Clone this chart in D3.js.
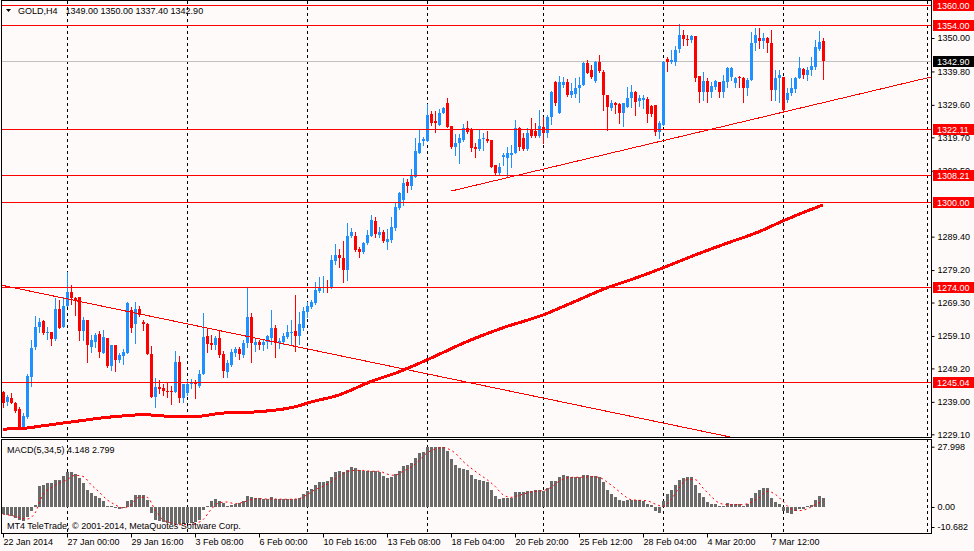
<!DOCTYPE html>
<html>
<head>
<meta charset="utf-8">
<title>GOLD,H4</title>
<script src="https://cdn.jsdelivr.net/npm/d3@7/dist/d3.min.js"></script>
<style>
  body { margin: 0; background: #fffafa; }
  svg { display: block; font-family: "Liberation Sans", Arial, sans-serif; font-size: 9px; }
</style>
</head>
<body>
<svg width="974" height="551"></svg>
<script>
// OHLC, one entry per H4 bar, first bar 22 Jan 2014 08:00
const opens = [
  1242.1,1239.0,1240.2,1238.7,1236.8,1231.4,1234.5,1246.7,1255.8,1261.7,
  1263.6,1260.1,1260.2,1258.1,1267.2,1261.9,1268.2,1272.4,1270.8,1270.9,
  1260.6,1264.0,1255.8,1257.4,1259.6,1254.0,1258.4,1250.0,1256.3,1251.9,
  1253.0,1254.0,1267.0,1262.9,1267.2,1263.4,1262.7,1253.6,1240.6,1243.6,
  1243.2,1242.4,1242.3,1242.1,1251.1,1240.3,1241.8,1244.5,1245.1,1243.9,
  1247.4,1259.2,1256.9,1256.3,1258.4,1253.6,1248.0,1250.3,1253.8,1255.1,
  1253.3,1256.9,1265.0,1256.4,1257.2,1256.3,1257.4,1258.6,1261.5,1257.0,
  1257.4,1258.9,1260.1,1260.7,1259.2,1261.6,1266.5,1268.0,1269.1,1272.8,
  1273.6,1274.1,1273.7,1282.0,1283.8,1282.8,1279.2,1289.6,1289.6,1285.5,
  1284.8,1287.4,1289.7,1294.3,1289.9,1290.7,1287.9,1288.4,1291.9,1298.0,
  1300.6,1306.2,1304.9,1307.7,1315.0,1318.6,1318.7,1326.8,1324.8,1323.5,
  1327.2,1330.1,1323.2,1316.8,1318.1,1318.9,1322.4,1321.9,1316.8,1316.0,
  1319.1,1319.2,1318.9,1311.2,1308.7,1313.8,1313.3,1314.3,1314.8,1322.4,
  1319.4,1316.1,1321.9,1321.7,1320.1,1323.0,1320.9,1325.8,1336.7,1327.2,
  1335.7,1336.7,1332.6,1332.9,1334.6,1335.7,1342.3,1340.2,1337.0,1342.8,
  1339.7,1332.6,1328.5,1330.3,1329.9,1327.2,1329.1,1331.6,1333.4,1330.8,
  1331.0,1331.4,1329.4,1329.6,1321.2,1323.5,1343.5,1342.8,1342.6,1346.6,
  1350.9,1349.7,1349.4,1350.7,1338.5,1333.6,1336.9,1333.6,1335.1,1336.5,
  1333.6,1336.5,1338.2,1336.2,1338.2,1337.9,1334.8,1337.2,1348.4,1350.1,
  1349.1,1350.1,1348.4,1334.1,1337.7,1338.2,1331.1,1333.1,1334.4,1337.9,
  1340.4,1338.7,1340.2,1341.3,1346.6,1349.0
];
const highs = [
  1242.4,1241.1,1241.6,1238.9,1237.5,1235.7,1247.5,1257.8,1265.2,1264.7,
  1263.9,1261.9,1260.3,1270.8,1270.0,1271.1,1278.5,1274.6,1271.1,1270.9,
  1265.0,1264.0,1259.4,1259.9,1260.6,1260.9,1258.4,1256.3,1256.3,1254.0,
  1255.0,1269.4,1268.0,1269.5,1268.2,1263.9,1263.0,1256.0,1246.4,1245.6,
  1244.4,1244.6,1243.8,1254.6,1252.9,1244.4,1245.6,1245.9,1245.6,1248.7,
  1266.2,1261.4,1259.3,1259.0,1260.9,1254.5,1251.9,1255.0,1255.8,1255.6,
  1257.9,1273.8,1266.0,1258.5,1258.0,1258.2,1259.5,1266.9,1262.4,1258.5,
  1260.0,1262.4,1264.0,1271.6,1266.5,1268.0,1269.6,1270.0,1275.6,1277.2,
  1277.4,1276.2,1283.8,1287.1,1285.5,1288.1,1293.6,1291.9,1290.9,1286.3,
  1287.9,1291.4,1295.9,1295.5,1292.4,1291.4,1291.6,1295.5,1299.6,1303.1,
  1307.2,1306.9,1310.0,1319.4,1321.9,1319.7,1329.9,1327.8,1327.8,1328.2,
  1328.8,1331.6,1323.2,1320.7,1320.7,1323.8,1324.8,1322.4,1317.9,1321.9,
  1320.9,1321.7,1318.9,1311.2,1312.0,1314.8,1316.8,1317.3,1325.0,1322.9,
  1320.9,1322.4,1325.5,1324.0,1328.0,1326.0,1326.5,1333.8,1336.9,1338.4,
  1338.2,1337.4,1336.2,1337.7,1338.2,1342.8,1343.3,1341.8,1343.0,1344.8,
  1340.2,1332.6,1331.1,1330.6,1330.1,1330.3,1335.1,1335.7,1333.8,1332.6,
  1332.6,1332.1,1329.6,1329.6,1324.7,1343.0,1344.3,1346.3,1347.7,1354.2,
  1352.4,1350.9,1350.9,1350.7,1338.5,1339.7,1337.7,1336.7,1337.2,1336.7,
  1338.7,1341.3,1341.3,1338.2,1338.5,1338.2,1337.7,1351.9,1353.2,1353.0,
  1351.4,1350.4,1352.4,1340.2,1340.2,1338.2,1334.6,1337.7,1338.2,1344.3,
  1340.9,1341.3,1344.3,1349.4,1352.1,1350.0
];
const lows = [
  1237.5,1238.0,1238.5,1236.0,1231.2,1231.2,1234.0,1243.9,1255.2,1260.4,
  1259.6,1258.1,1256.4,1258.0,1261.5,1261.7,1268.2,1269.0,1265.5,1257.8,
  1257.8,1251.2,1254.3,1255.6,1252.8,1254.0,1249.7,1248.7,1248.5,1251.2,
  1250.5,1253.8,1260.4,1257.0,1265.3,1260.9,1253.5,1240.5,1237.3,1241.6,
  1241.1,1240.6,1238.3,1241.9,1239.0,1239.0,1241.1,1243.1,1240.3,1243.6,
  1247.4,1254.3,1255.2,1255.0,1252.8,1246.7,1246.7,1249.8,1253.0,1252.0,
  1252.6,1255.8,1251.3,1254.5,1255.0,1254.8,1255.5,1256.8,1252.6,1255.5,
  1256.8,1258.4,1256.8,1254.4,1256.8,1261.0,1265.0,1267.5,1268.8,1272.6,
  1272.5,1272.6,1273.7,1281.2,1280.2,1275.5,1276.2,1289.4,1285.0,1283.3,
  1284.5,1287.1,1289.7,1289.2,1289.4,1287.9,1285.6,1287.9,1291.4,1297.7,
  1299.0,1303.1,1303.8,1307.5,1314.8,1317.5,1318.5,1323.5,1321.4,1323.4,
  1327.0,1322.9,1316.3,1314.3,1311.8,1318.7,1320.9,1315.6,1313.8,1315.8,
  1315.8,1318.4,1310.5,1308.2,1308.5,1311.2,1307.9,1310.5,1314.8,1315.8,
  1315.8,1315.8,1319.9,1319.9,1319.9,1318.1,1319.7,1323.8,1329.6,1327.2,
  1335.2,1332.3,1332.1,1332.1,1330.6,1335.7,1339.2,1337.7,1336.7,1339.7,
  1328.0,1321.9,1328.0,1327.0,1324.0,1323.2,1328.8,1329.1,1326.5,1329.4,
  1328.6,1324.5,1326.3,1320.4,1319.4,1323.5,1339.9,1342.3,1341.8,1345.8,
  1347.9,1347.9,1348.9,1336.9,1330.4,1331.1,1330.4,1332.1,1334.4,1332.1,
  1332.1,1335.2,1337.2,1335.2,1335.2,1330.4,1332.6,1337.2,1346.3,1347.1,
  1346.9,1345.8,1331.1,1331.1,1330.6,1327.5,1330.4,1332.6,1333.6,1337.7,
  1337.7,1337.2,1338.7,1340.5,1346.3,1337.4
];
const closes = [
  1238.7,1240.5,1238.7,1236.3,1231.4,1234.8,1246.9,1255.3,1261.7,1263.3,
  1259.9,1260.3,1258.1,1267.2,1261.6,1268.2,1272.4,1270.8,1270.0,1260.6,
  1264.0,1256.3,1257.9,1259.4,1254.3,1258.9,1250.0,1256.3,1251.9,1253.3,
  1254.3,1269.2,1261.4,1267.2,1265.5,1262.9,1253.6,1240.6,1243.4,1243.0,
  1242.4,1242.2,1242.2,1251.1,1240.3,1244.4,1244.4,1245.1,1244.3,1247.4,
  1258.7,1256.7,1256.4,1258.4,1253.3,1248.4,1250.8,1254.3,1255.1,1253.5,
  1256.9,1265.0,1256.9,1257.4,1256.3,1257.4,1259.2,1261.5,1256.9,1257.6,
  1259.2,1260.4,1260.4,1259.1,1262.9,1266.7,1268.3,1269.4,1273.1,1273.8,
  1274.1,1273.6,1282.3,1283.8,1282.8,1279.2,1289.6,1290.9,1285.3,1284.8,
  1287.6,1289.9,1294.5,1290.2,1290.7,1288.2,1288.7,1292.4,1298.5,1302.6,
  1305.9,1304.9,1307.9,1315.5,1317.9,1319.2,1326.5,1324.2,1324.2,1327.2,
  1328.5,1323.0,1316.8,1317.9,1319.4,1322.4,1321.4,1316.3,1316.0,1319.1,
  1319.4,1318.7,1310.7,1308.7,1310.5,1314.3,1314.8,1314.8,1322.4,1316.8,
  1316.1,1320.9,1320.1,1320.1,1323.2,1321.1,1326.0,1333.6,1330.1,1336.7,
  1336.7,1332.6,1333.9,1334.6,1335.7,1342.3,1339.4,1338.0,1342.8,1340.0,
  1332.6,1329.1,1330.3,1329.6,1327.2,1330.1,1331.8,1333.4,1330.6,1331.6,
  1331.6,1326.7,1326.7,1321.4,1324.0,1342.8,1342.8,1343.3,1346.3,1350.9,
  1349.7,1349.5,1350.7,1337.9,1333.6,1336.9,1333.4,1335.5,1336.9,1333.6,
  1336.9,1340.9,1340.9,1337.9,1337.7,1334.8,1337.2,1348.4,1350.9,1349.1,
  1350.1,1348.4,1334.1,1337.9,1338.7,1328.0,1333.1,1334.6,1337.9,1340.7,
  1338.7,1340.2,1341.6,1347.4,1348.9,1342.9
];

// MACD(5,34,5) histogram, one value per bar
const macdHist = [
  -3.3,-3.6,-4.3,-5.1,-5.9,-6.3,-4.6,-2.0,1.0,9.6,
  10.4,11.1,11.1,12.7,12.7,14.2,16.1,16.1,15.5,13.5,
  11.1,8.0,6.5,5.3,4.2,2.6,0.3,0.6,-0.5,-1.0,
  -0.5,2.9,3.4,5.4,5.4,5.4,3.4,-2.8,-5.9,-6.7,
  -7.0,-7.4,-7.9,-7.9,-7.9,-7.9,-7.4,-7.4,-7.0,-5.9,
  -1.2,0.6,2.6,3.7,2.9,1.9,0.3,1.1,1.5,1.9,
  2.6,5.0,4.5,4.2,4.2,3.9,3.9,4.5,3.9,3.7,
  3.6,3.6,3.6,3.7,4.2,6.0,7.6,8.5,10.4,11.5,
  11.6,12.2,13.8,16.1,16.6,16.3,17.2,18.6,18.1,17.2,
  16.9,16.6,16.6,16.6,16.1,14.6,13.5,13.8,15.3,16.9,
  18.9,19.3,20.4,22.8,25.1,25.5,27.9,27.998,27.7,27.9,
  27.7,25.9,22.3,19.7,18.1,17.6,17.0,15.0,13.0,12.4,
  11.9,11.5,8.0,5.3,3.7,4.2,4.2,4.2,7.0,7.0,
  7.0,7.3,7.6,7.7,7.9,7.6,8.8,11.9,12.2,13.8,
  14.7,14.2,13.8,13.8,13.8,14.7,14.7,14.6,14.6,13.8,
  11.6,8.0,6.0,4.5,3.4,2.9,3.1,3.4,3.1,3.1,
  2.9,1.4,1.1,-1.7,-2.8,2.9,6.0,8.0,10.4,12.4,
  13.5,13.9,13.9,10.4,6.5,4.5,2.3,1.4,1.4,0.5,
  0.6,1.9,1.4,1.4,1.4,0.6,1.4,4.2,6.5,7.7,
  8.8,8.8,4.2,2.3,1.5,-1.7,-2.8,-3.1,-1.7,-0.9,
  -0.9,0.6,1.1,3.3,5.1,4.148
];

const signalIdx = [0,3,6,8,10,12,14,16,18,20,22,24,26,28,30,32,34,36,38,40,
  42,44,46,48,50,52,54,56,58,60,62,64,66,68,70,72,74,76,78,80,
  82,84,86,88,90,92,94,96,98,100,102,104,106,108,110,111,113,115,117,119,
  121,123,125,127,129,131,133,135,137,139,141,143,145,147,149,151,153,155,157,159,
  161,163,165,167,169,171,173,175,177,179,181,183,185,187,189,191,193,195,197,199,
  201,203,205];
const signalVal = [-3.3,-4.3,-5.6,-2.8,5.7,8.8,11.1,12.7,14.7,14.2,10.4,7.0,3.4,1.1,-0.5,1.1,4.5,4.5,-1.2,-5.9,
  -7.4,-8.2,-8.2,-7.7,-5.9,-1.2,1.9,2.3,1.5,2.2,3.4,3.9,3.7,3.7,3.6,3.6,3.9,5.7,8.0,9.6,
  11.6,14.2,16.3,17.0,17.0,16.6,16.6,15.3,14.7,16.6,18.5,21.5,25.1,26.9,27.6,27.2,25.1,21.2,18.1,15.3,
  12.7,9.6,5.7,4.5,5.4,6.5,7.3,7.6,9.1,11.9,13.5,13.8,13.8,14.1,13.8,11.6,8.8,5.7,3.4,3.1,
  2.9,1.4,0.3,3.4,8.8,12.7,12.7,8.8,5.0,1.9,1.1,1.1,1.1,2.2,4.2,7.3,6.0,2.6,-0.9,-1.7,
  -0.9,1.1,2.799];

const maIdx = [0,4,10,16,21,24,28,31,35,39,43,47,50,53,54,64,74,76,84,92,
  98,106,116,125,135,142,151,158,165,173,181,189,195,205];
const maVal = [1230.7,1230.8,1231.7,1232.7,1233.5,1234.0,1234.5,1234.8,1235.1,1234.8,
  1234.5,1234.5,1234.7,1235.3,1235.5,1236.0,1237.8,1238.6,1241.1,1245.2,
  1247.7,1251.8,1257.4,1261.6,1265.5,1269.1,1273.8,1276.7,1279.9,1283.8,
  1287.4,1290.9,1294.2,1299.1];

// horizontal levels and trend lines (bar index, price)
const levels = [1360, 1354, 1322.11, 1308.21, 1300, 1274, 1245.04];
const trendStart = [[-1, 1274.75], [112, 1303.3]];
const trendEnd = [[190, 1226.2], [232, 1338.1]];

// week grid (Monday 00:00 bars)
const gridIdx = [16, 46, 76, 106, 135, 165, 195];

// 1299.30 sits fully under the 1300.00 tag, so it is left out
const priceTicks = [1350.00, 1339.80, 1329.60, 1319.70, 1309.50, 1289.40,
  1279.20, 1269.30, 1259.10, 1249.20, 1239.00, 1229.10];
const macdTicks = [27.998, 0, -10.682];
const macdTickText = ['27.998', '0.00', '-10.682'];
const timeTickIdx = [0, 16, 32, 48, 64, 80, 96, 112, 128, 144, 160, 176, 192];
const timeTickText = ['22 Jan 2014', '27 Jan 00:00', '29 Jan 16:00', '3 Feb 08:00', '6 Feb 00:00',
  '10 Feb 16:00', '13 Feb 08:00', '18 Feb 04:00', '20 Feb 20:00', '25 Feb 12:00',
  '28 Feb 04:00', '4 Mar 20:00', '7 Mar 12:00'];

const svg = d3.select('svg');
const width = +svg.attr('width');
const height = +svg.attr('height');
const plot = { left: 1.5, right: 931.5, top: 0.5, bottom: 437.5, macdTop: 439.5, macdBottom: 533.5 };
const font = '"Liberation Sans", Arial, sans-serif';
const bull = '#1e90ff', bear = '#ff0000', red = '#ff0000';
const n = closes.length;
const last = n - 1;

const x = d3.scaleLinear().domain([0, last]).range([3, 3 + 4 * last]);
const y = d3.scaleLinear().domain([1229.1, 1350]).range([434.3, 38]);
const ym = d3.scaleLinear().domain([-10.682, 27.998]).range([530, 446.7]);
const crisp = v => Math.round(v) + 0.5;

svg.append('rect').attr('width', width).attr('height', height).attr('fill', '#fffafa');

const defs = svg.append('defs');
defs.append('clipPath').attr('id', 'clipMain').append('rect')
    .attr('x', 2).attr('y', 1).attr('width', 929).attr('height', 436);
defs.append('clipPath').attr('id', 'clipMacd').append('rect')
    .attr('x', 2).attr('y', 440).attr('width', 929).attr('height', 93);

// dashed vertical grid through both panels
const grid = svg.append('g')
    .attr('stroke', '#000')
    .attr('stroke-dasharray', '3,3');
grid.selectAll('line')
    .data(gridIdx)
    .enter().append('line')
    .attr('x1', d => crisp(x(d)))
    .attr('x2', d => crisp(x(d)))
    .attr('y1', 1)
    .attr('y2', 533);
grid.append('line')
    .attr('x1', plot.right - 4).attr('x2', plot.right - 4)
    .attr('y1', 1).attr('y2', 533);

const main = svg.append('g').attr('clip-path', 'url(#clipMain)');

// bid line
main.append('line')
    .attr('x1', 2).attr('x2', plot.right)
    .attr('y1', crisp(y(closes[last]))).attr('y2', crisp(y(closes[last])))
    .attr('stroke', '#c0c0c0');

// candles
const bars = d3.range(n);
const candle = main.append('g');
candle.selectAll('.wick')
    .data(bars)
    .enter().append('line')
    .attr('class', 'wick')
    .attr('x1', i => Math.round(x(i)) + 0.5)
    .attr('x2', i => Math.round(x(i)) + 0.5)
    .attr('y1', i => Math.round(y(highs[i])))
    .attr('y2', i => Math.round(y(lows[i])) + 1)
    .attr('stroke', i => closes[i] >= opens[i] ? bull : bear);
candle.selectAll('.body')
    .data(bars)
    .enter().append('rect')
    .attr('class', 'body')
    .attr('x', i => Math.round(x(i)) - 1)
    .attr('width', 3)
    .attr('y', i => Math.round(y(Math.max(opens[i], closes[i]))))
    .attr('height', i => Math.max(1, Math.round(y(Math.min(opens[i], closes[i]))) - Math.round(y(Math.max(opens[i], closes[i])))))
    .attr('fill', i => closes[i] >= opens[i] ? bull : bear);

// moving average
const maLine = d3.line()
    .x(i => x(maIdx[i]))
    .y(i => y(maVal[i]))
    .curve(d3.curveMonotoneX);
main.append('path')
    .datum(d3.range(maIdx.length))
    .attr('fill', 'none')
    .attr('stroke', red)
    .attr('stroke-width', 3)
    .attr('shape-rendering', 'crispEdges')
    .attr('d', maLine);

// horizontal levels
main.selectAll('.level')
    .data(levels)
    .enter().append('line')
    .attr('class', 'level')
    .attr('x1', 2).attr('x2', plot.right)
    .attr('y1', d => crisp(y(d))).attr('y2', d => crisp(y(d)))
    .attr('stroke', red);

// trend lines
main.selectAll('.trend')
    .data(d3.range(trendStart.length))
    .enter().append('line')
    .attr('class', 'trend')
    .attr('x1', i => x(trendStart[i][0]))
    .attr('y1', i => y(trendStart[i][1]))
    .attr('x2', i => x(trendEnd[i][0]))
    .attr('y2', i => y(trendEnd[i][1]))
    .attr('stroke', red)
    .attr('shape-rendering', 'crispEdges');

// MACD panel
const macd = svg.append('g').attr('clip-path', 'url(#clipMacd)');
macd.selectAll('rect')
    .data(bars)
    .enter().append('rect')
    .attr('x', i => Math.round(x(i)) - 1)
    .attr('width', 3)
    .attr('y', i => Math.round(Math.min(ym(0), ym(macdHist[i]))))
    .attr('height', i => Math.max(1, Math.round(Math.abs(ym(macdHist[i]) - ym(0)))))
    .attr('fill', '#6a6a6a');

const signalLine = d3.line()
    .x(i => x(signalIdx[i]))
    .y(i => ym(signalVal[i]))
    .curve(d3.curveMonotoneX);
macd.append('path')
    .datum(d3.range(signalIdx.length))
    .attr('fill', 'none')
    .attr('stroke', red)
    .attr('stroke-width', 1)
    .attr('stroke-dasharray', '2,3')
    .attr('d', signalLine);

// panel borders
svg.append('rect')
    .attr('x', plot.left).attr('y', plot.top)
    .attr('width', plot.right - plot.left).attr('height', plot.bottom - plot.top)
    .attr('fill', 'none').attr('stroke', '#000');
svg.append('rect')
    .attr('x', plot.left).attr('y', plot.macdTop)
    .attr('width', plot.right - plot.left).attr('height', plot.macdBottom - plot.macdTop)
    .attr('fill', 'none').attr('stroke', '#000');

// price axis
const yAxis = svg.append('g')
    .attr('transform', `translate(${plot.right},0)`)
    .call(d3.axisRight(y)
        .tickValues(priceTicks)
        .tickSize(3)
        .tickPadding(3)
        .tickFormat(d3.format('.2f')));
yAxis.attr('font-family', font).attr('font-size', 9);
yAxis.select('.domain').remove();

// level labels on the price axis
const tags = svg.append('g').attr('font-family', font).attr('font-size', 9);
tags.selectAll('rect')
    .data(levels)
    .enter().append('rect')
    .attr('x', 933).attr('width', 41)
    .attr('y', d => Math.round(y(d)) - 5).attr('height', 11)
    .attr('fill', red);
tags.selectAll('text')
    .data(levels)
    .enter().append('text')
    .attr('x', 937)
    .attr('y', d => Math.round(y(d)) + 0.5)
    .attr('dy', '0.34em')
    .attr('fill', '#fff')
    .text(d => d.toFixed(2));

// current price tag
tags.append('rect')
    .attr('x', 933).attr('width', 41)
    .attr('y', Math.round(y(closes[last])) - 5).attr('height', 11)
    .attr('fill', '#000');
tags.append('text')
    .attr('x', 937)
    .attr('y', Math.round(y(closes[last])) + 0.5)
    .attr('dy', '0.34em')
    .attr('fill', '#fff')
    .text(closes[last].toFixed(2));

// MACD axis
const mAxis = svg.append('g')
    .attr('transform', `translate(${plot.right},0)`)
    .call(d3.axisRight(ym)
        .tickValues(macdTicks)
        .tickSize(3)
        .tickPadding(3)
        .tickFormat((d, i) => macdTickText[i]));
mAxis.attr('font-family', font).attr('font-size', 9);
mAxis.select('.domain').remove();
// lowest label is kept inside the panel
mAxis.selectAll('.tick').filter(d => d === macdTicks[2])
    .attr('transform', `translate(0,${Math.round(ym(macdTicks[2])) - 3 + 0.5})`);

// time axis
const xAxis = svg.append('g')
    .attr('transform', `translate(0,${plot.macdBottom})`)
    .call(d3.axisBottom(x)
        .tickValues(timeTickIdx)
        .tickSize(4)
        .tickPadding(1)
        .tickFormat((d, i) => timeTickText[i]));
xAxis.attr('font-family', font).attr('font-size', 9).attr('text-anchor', 'start');
xAxis.select('.domain').remove();

// header and panel captions
svg.append('path')
    .attr('d', 'M6,9L11,9L8.5,12Z')
    .attr('fill', '#000');
svg.append('text')
    .attr('x', 18).attr('y', 14)
    .attr('fill', '#000')
    .text('GOLD,H4');
svg.append('text')
    .attr('x', 65.5).attr('y', 14)
    .attr('fill', '#000')
    .text([opens[last], highs[last], lows[last], closes[last]].map(v => v.toFixed(2)).join(' '));
svg.append('text')
    .attr('x', 7).attr('y', 453)
    .attr('fill', '#000')
    .text(`MACD(5,34,5) ${macdHist[last].toFixed(3)} ${signalVal[signalVal.length - 1].toFixed(3)}`);
svg.append('text')
    .attr('x', 7).attr('y', 529)
    .attr('fill', '#000')
    .text('MT4 TeleTrade, © 2001-2014, MetaQuotes Software Corp.');
</script>
</body>
</html>
